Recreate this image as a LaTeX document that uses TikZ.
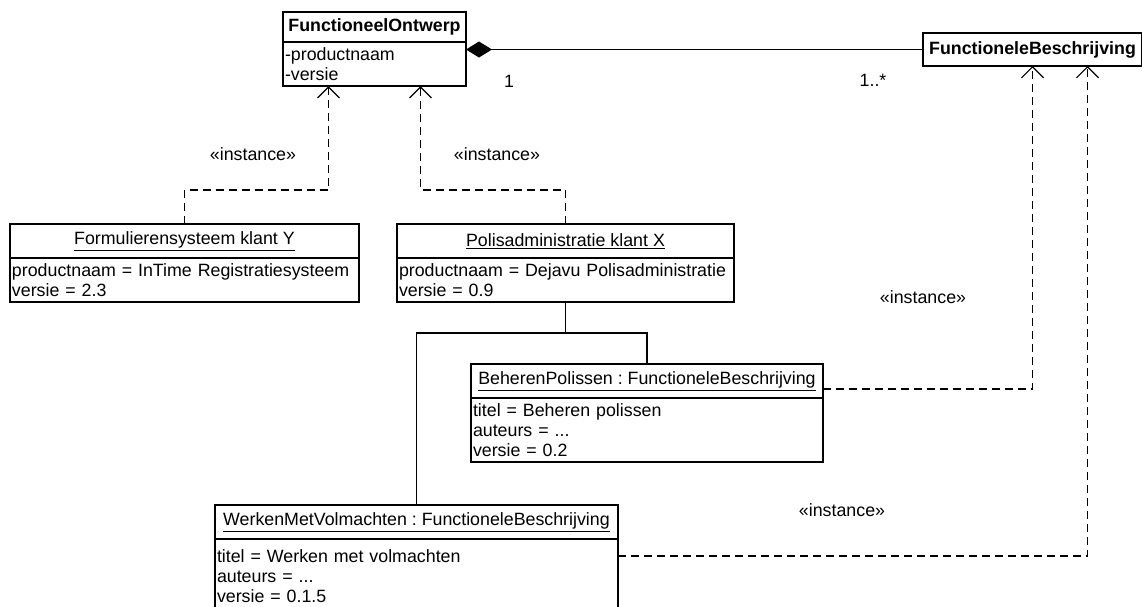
\documentclass[tikz,border=0pt]{standalone}
\usepackage{fontspec}
\setmainfont{Liberation Sans}
\usetikzlibrary{arrows.meta}
\usetikzlibrary{calc}
\usetikzlibrary{positioning}
\frenchspacing
\newcommand{\umlfont}{\fontsize{17.8}{20}\selectfont}
\tikzset{
    umlbox/.style = {draw=black, rectangle, inner sep=0pt, outer sep=0pt,
        font=\umlfont},
    cls_h/.style = {umlbox, font=\umlfont\bfseries, text centered},% klasse, kop
    obj_h/.style = {umlbox, minimum height=34pt, text centered},% object, kop (onderstreept)
    obj_b/.style = {umlbox, align=left, inner xsep=2pt, inner ysep=5.5pt,
        text width=#1},% attributen
    inst/.style = {dash pattern=on 8pt off 5pt, ->},% instance-pijl
    lbl/.style = {font=\umlfont, inner sep=0pt},
}

\begin{document}
\begin{tikzpicture}[x=1pt,y=-1pt,line width=1.2pt,
    >={Straight Barb[length=11pt,width=22pt]}]
\useasboundingbox (0,0) rectangle (1142,606);
% klassen
\node [cls_h, minimum width=183pt, minimum height=30pt, anchor=north west] (fo) at (283,12) {FunctioneelOntwerp};
\node [obj_b=179pt, below=0pt of fo] (fob) {-productnaam\\-versie};
\node [cls_h, minimum width=219pt, minimum height=33pt, anchor=north west] (fb) at (923,33) {FunctioneleBeschrijving};
% objecten
\node [obj_h, minimum width=349pt, anchor=north west] (fy) at (10,224) {\underline{Formulierensysteem klant Y}};
\node [obj_b=345pt, below=0pt of fy] (fyb) {productnaam = InTime Registratiesysteem\\versie = 2.3};
\node [obj_h, minimum width=337pt, anchor=north west] (px) at (397,224) {\underline{Polisadministratie klant X}};
\node [obj_b=333pt, below=0pt of px] (pxb) {productnaam = Dejavu Polisadministratie\\versie = 0.9};
\node [obj_h, minimum width=352pt, anchor=north west] (bp) at (471,364) {\underline{BeherenPolissen : FunctioneleBeschrijving}};
\node [obj_b=348pt, below=0pt of bp] (bpb) {titel = Beheren polissen\\auteurs = ...\\versie = 0.2};
\node [obj_h, minimum width=403pt, anchor=north west] (wv) at (215,505) {\underline{WerkenMetVolmachten : FunctioneleBeschrijving}};
\node [obj_b=399pt, minimum height=74pt, below=0pt of wv] (wvb) {titel = Werken met volmachten\\auteurs = ...\\versie = 0.1.5};
% labels
\node [lbl] (m1) at (509,81) {1};
\node [lbl] (m2) at (873,80) {1..*};
\node [lbl] (i1) at (253,154) {«instance»};
\node [lbl] (i2) at (497,154) {«instance»};
\node [lbl] (i3) at (923,297) {«instance»};
\node [lbl] (i4) at (842,510) {«instance»};
% verbindingen
\draw [-{Diamond[length=26pt,width=16pt]}] (fb.west) -- (fb.west -| fob.east);
\coordinate (fo1) at ([xshift=-46pt]fob.south);
\coordinate (fo2) at ([xshift=46pt]fob.south);
\draw [inst] (fy.north) -- ++(0,-34) -| (fo1);
\draw [inst] (px.north) -- ++(0,-34) -| (fo2);
\draw (pxb.south) -- ++(0,31) coordinate (tak);
\draw (tak) -| (bp.north);
\draw (tak) -| (wv.north);
\draw [inst] ([yshift=-25pt]bp.north east) -| (fb.south);
\draw [inst] ([yshift=-17pt]wvb.north east) -| ([xshift=55pt]fb.south);
\end{tikzpicture}
\end{document}
